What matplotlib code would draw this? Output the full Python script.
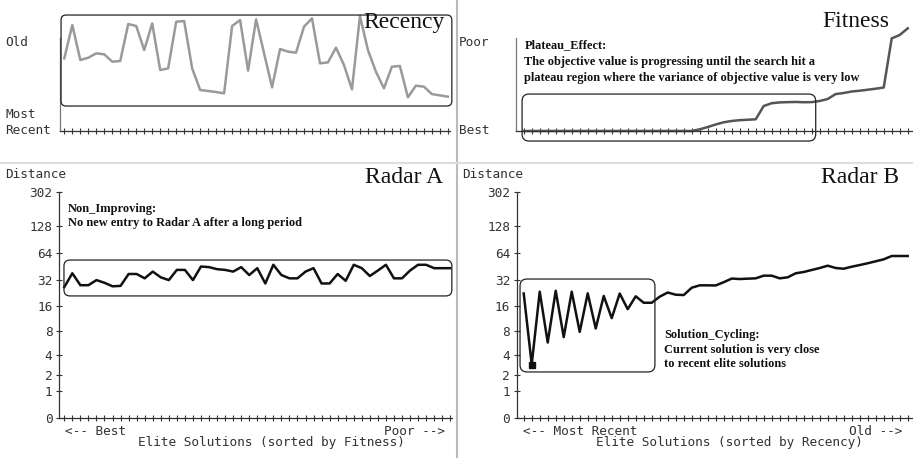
import numpy as np
import matplotlib
matplotlib.use('Agg')
import matplotlib.pyplot as plt
from matplotlib.patches import FancyBboxPatch
from matplotlib.lines import Line2D

W, H = 913, 458

# ---------------------------------------------------------------
#  data
# ---------------------------------------------------------------
# recency of each elite solution, sorted by fitness (0 = most recent, 100 = old)
recency = [82.6, 120.5, 80.7, 83.3, 88.3, 87.1, 78.8, 79.5, 121.6, 119.3,
           92.0, 122.3, 69.3, 71.2, 124.2, 125.0, 71.2, 46.6, 45.5, 44.3,
           42.8, 119.3, 126.1, 68.6, 126.9, 88.3, 49.6, 93.2, 90.2, 89.0,
           118.6, 128.0, 76.9, 78.0, 94.7, 75.0, 47.3, 130.7, 92.0, 67.4,
           48.5, 73.1, 73.9, 38.3, 51.5, 50.4, 42.0, 40.5, 39.0]

# fitness of each elite solution, sorted by recency (0 = best, 100 = poor)
fitness = [0, 0, 0, 0, 0, 0, 0, 0, 0, 0,
           0, 0, 0, 0, 0, 0, 0, 0, 0, 0,
           0, 0, 1.9, 4.5, 7.4, 9.9, 11.4, 12.3, 12.8, 13.3,
           28.4, 31.6, 32.5, 32.8, 33.0, 32.7, 32.8, 34.1, 36.4, 42.0,
           43.2, 44.9, 45.8, 46.9, 48.1, 49.4, 105.3, 109.1, 116.7]

# distance to current solution
radar_a = [26.7, 38.2, 28.0, 28.0, 32.0, 29.8, 27.2, 27.5, 37.5, 37.5,
           33.5, 39.9, 34.4, 32.0, 41.7, 41.7, 32.0, 45.5, 44.8, 42.5,
           41.7, 39.9, 44.8, 36.5, 43.6, 29.3, 47.6, 36.5, 33.5, 33.5,
           39.9, 43.6, 29.3, 29.3, 37.5, 31.4, 47.6, 43.6, 35.6, 41.0,
           47.6, 33.5, 33.5, 41.0, 47.6, 47.6, 43.6, 43.6, 43.6]

radar_b = [22.5, 2.9, 23.6, 5.8, 24.2, 6.8, 23.6, 7.9, 22.6, 8.7,
           21.1, 11.6, 22.5, 14.8, 20.9, 17.6, 17.6, 20.7, 23.1, 21.8,
           21.6, 26.2, 27.9, 27.9, 27.8, 30.3, 33.3, 32.9, 33.2, 33.5,
           35.9, 35.9, 33.5, 34.4, 38.2, 39.5, 41.6, 43.8, 46.5, 43.8,
           43.0, 45.3, 47.3, 49.5, 52.1, 54.8, 59.7, 59.7, 59.7]

dist_ticks = [0, 1, 2, 4, 8, 16, 32, 64, 128, 302]

idx = np.arange(len(recency))

MONO = 'DejaVu Sans Mono'
SERIF = 'Liberation Serif'
MONO_SIZE = 9.2
NOTE_SIZE = 8.9

fig = plt.figure(figsize=(W / 100, H / 100), dpi=100)


def fx(x):
    return x / W


def fy(y):
    return 1 - y / H


def px_axes(l, t, r, b):
    return fig.add_axes([l / W, 1 - b / H, (r - l) / W, (b - t) / H])


def style_axis(ax):
    for s in ['top', 'right']:
        ax.spines[s].set_visible(False)
    for s in ['left', 'bottom']:
        ax.spines[s].set_color('#333333')
        ax.spines[s].set_linewidth(0.9)
    ax.set_xticks(idx)
    ax.tick_params(axis='x', direction='inout', length=5, width=0.8,
                   color='#333333', labelbottom=False)


def mono(x, y, s, ha='left'):
    fig.text(fx(x), fy(y), s, family=MONO, fontsize=MONO_SIZE, color='#333333',
             ha=ha, va='center')


def note(x, y0, step, lines):
    for k, line in enumerate(lines):
        fig.text(fx(x), fy(y0 + k * step), line, family=SERIF, weight='bold',
                 fontsize=NOTE_SIZE, color='#111111', ha='left', va='baseline')


def title(x, y, s):
    fig.text(fx(x), fy(y), s, family=SERIF, fontsize=17, color='#111111',
             ha='right', va='baseline')


def rbox(ax, x0, x1, y0, y1, r=0.05):
    (a, b), (c, d) = ax.transData.transform([(x0, y0), (x1, y1)])
    dpi = fig.dpi
    p = FancyBboxPatch((a / dpi, b / dpi), (c - a) / dpi, (d - b) / dpi,
                       boxstyle='round,pad=0,rounding_size=%g' % r,
                       transform=fig.dpi_scale_trans, fill=False,
                       ec='#222222', lw=0.9)
    fig.add_artist(p)


log_fwd = lambda v: np.log2(1 + np.clip(v, 0, None))
log_inv = lambda L: 2.0 ** L - 1

#########################################################################
#  Recency (top left)
#########################################################################
ax1 = px_axes(60, 8, 450, 131)
style_axis(ax1)
ax1.plot(idx, recency, color='#9a9a9a', lw=1.8, clip_on=False)
ax1.set_xlim(-0.54, 48.27)
ax1.set_ylim(0, 139.8)
ax1.spines['left'].set_bounds(0, 105.7)
ax1.spines['left'].set_color('#777777')
ax1.set_yticks([])
rbox(ax1, -0.41, 48.5, 28.4, 131.8, r=0.05)
title(445, 28, 'Recency')
mono(5, 43, 'Old')
mono(5, 115, 'Most')
mono(5, 130, 'Recent')

#########################################################################
#  Fitness (top right)
#########################################################################
ax2 = px_axes(516, 8, 913, 131)
style_axis(ax2)
ax2.plot(idx, fitness, color='#555555', lw=1.8, clip_on=False)
ax2.set_xlim(-0.96, 48.66)
ax2.set_ylim(0, 139.8)
ax2.spines['left'].set_bounds(0, 105.7)
ax2.spines['left'].set_color('#777777')
ax2.set_yticks([])
rbox(ax2, -0.2, 36.5, -11.4, 42, r=0.07)
title(889, 26.7, 'Fitness')
mono(459, 43, 'Poor')
mono(459, 130, 'Best')
note(524.3, 48, 16.5, ['Plateau_Effect:',
                       'The objective value is progressing until the search hit a',
                       'plateau region where the variance of objective value is very low'])

#########################################################################
#  Radar A / Radar B (bottom)
#########################################################################
ax3 = px_axes(59.3, 185, 452, 418.3)
ax4 = px_axes(517, 185, 913, 418.3)
for ax, vals, xl in [(ax3, radar_a, (-0.62, 48.22)), (ax4, radar_b, (-0.84, 48.66))]:
    style_axis(ax)
    ax.set_yscale('function', functions=(log_fwd, log_inv))
    ax.plot(idx, vals, color='#111111', lw=1.8)
    ax.set_xlim(*xl)
    ax.set_ylim(0, 364.8)
    ax.spines['left'].set_bounds(0, 302)
    ax.set_yticks(dist_ticks)
    ax.set_yticklabels([str(t) for t in dist_ticks])
    ax.yaxis.set_minor_locator(matplotlib.ticker.NullLocator())
    ax.tick_params(axis='y', direction='inout', length=4, width=0.8,
                   color='#333333', pad=3, labelsize=MONO_SIZE, labelcolor='#333333')
    for lab in ax.get_yticklabels():
        lab.set_family(MONO)

ax4.plot(idx[1], radar_b[1], 's', color='#111111', ms=4)

rbox(ax3, -0.04, 48.2, 21.1, 53.8, r=0.06)
rbox(ax4, -0.46, 16.4, 2.23, 32.9, r=0.07)

title(442.7, 183.3, 'Radar A')
title(898.7, 183.3, 'Radar B')
mono(5, 174.3, 'Distance')
mono(462, 174.3, 'Distance')
mono(65, 431.7, '<-- Best')
mono(445, 431.7, 'Poor -->', ha='right')
mono(271.7, 442.3, 'Elite Solutions (sorted by Fitness)', ha='center')
mono(522.7, 431.7, '<-- Most Recent')
mono(902.7, 431.7, 'Old -->', ha='right')
mono(729, 442.3, 'Elite Solutions (sorted by Recency)', ha='center')

note(67.7, 211.7, 14.3, ['Non_Improving:',
                         'No new entry to Radar A after a long period'])
note(664.3, 338.3, 14.5, ['Solution_Cycling:',
                          'Current solution is very close',
                          'to recent elite solutions'])

# panel dividers
fig.add_artist(Line2D([fx(456.5), fx(456.5)], [0, 1], transform=fig.transFigure,
                      color='#bbbbbb', lw=1.5))
fig.add_artist(Line2D([0, 1], [fy(163), fy(163)], transform=fig.transFigure,
                      color='#dddddd', lw=1.5))

fig.savefig('out.png', dpi=100, facecolor='white')
